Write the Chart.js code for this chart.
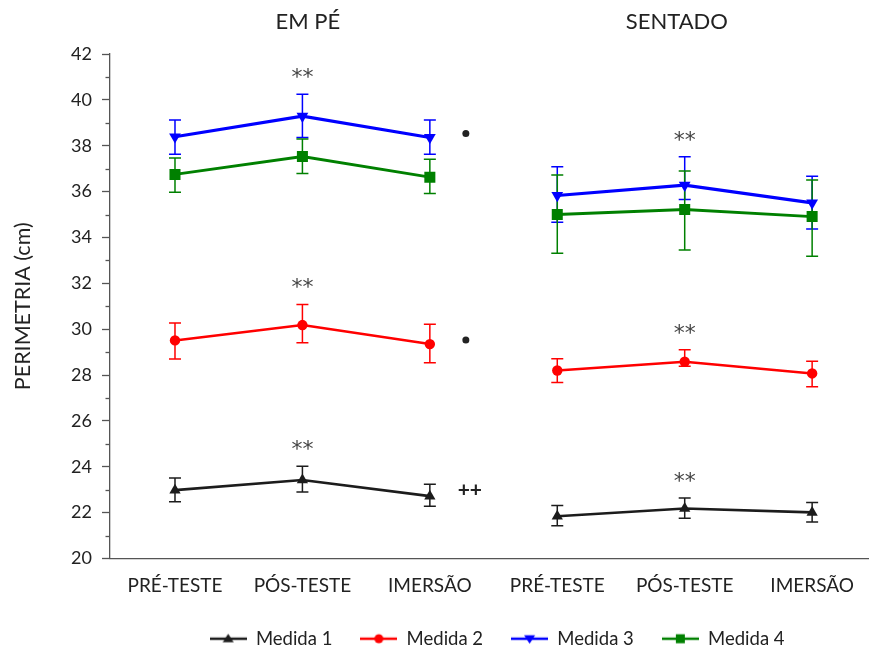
<!DOCTYPE html>
<html>
<head>
<meta charset="utf-8">
<script src="https://cdn.jsdelivr.net/npm/chart.js@4.4.1/dist/chart.umd.min.js"></script>
<style>
  html, body { margin: 0; padding: 0; background: #fff; }
</style>
</head>
<body>
<canvas id="perimetriaChart" width="876" height="651"></canvas>
<script>
// x categories (two groups of three moments)
const categories = ['PRÉ-TESTE', 'PÓS-TESTE', 'IMERSÃO', 'PRÉ-TESTE', 'PÓS-TESTE', 'IMERSÃO'];
const groups = ['EM PÉ', 'SENTADO'];

// means and error bars (cm)
const medida1 = [22.98, 23.42, 22.72, 21.84, 22.18, 22.01];
const medida1Up = [0.53, 0.60, 0.52, 0.47, 0.46, 0.43];
const medida1Down = [0.51, 0.52, 0.44, 0.41, 0.43, 0.42];

const medida2 = [29.51, 30.18, 29.35, 28.20, 28.58, 28.07];
const medida2Up = [0.76, 0.90, 0.87, 0.51, 0.52, 0.53];
const medida2Down = [0.81, 0.77, 0.81, 0.52, 0.20, 0.58];

const medida3 = [38.39, 39.29, 38.36, 35.83, 36.28, 35.51];
const medida3Up = [0.73, 0.95, 0.76, 1.25, 1.24, 1.16];
const medida3Down = [0.76, 0.93, 0.73, 1.17, 0.63, 1.14];

const medida4 = [36.75, 37.53, 36.63, 35.00, 35.22, 34.91];
const medida4Up = [0.72, 0.76, 0.78, 1.72, 1.68, 1.60];
const medida4Down = [0.78, 0.74, 0.71, 1.69, 1.77, 1.73];

// significance marks per point
const marks1 = ['', '**', '++', '', '**', ''];
const marks2 = ['', '**', '•', '', '**', ''];
const marks3 = ['', '**', '•', '', '**', ''];
const marks4 = ['', '', '', '', '', ''];

const FONT = 'Lato, "DejaVu Sans", sans-serif';

function makeSeries(label, values, up, down, marks, color, style, rotation, radius, width) {
  return {
    label,
    data: values.map((v, i) => ({ x: i, y: v })),
    errUp: up,
    errDown: down,
    marks,
    borderColor: color,
    backgroundColor: color,
    borderWidth: width,
    pointStyle: style,
    pointRotation: rotation,
    pointRadius: radius,
    pointBorderWidth: 0,
    pointHoverRadius: radius,
    tension: 0,
    // no line between IMERSÃO (em pé) and PRÉ-TESTE (sentado)
    segment: { borderColor: c => c.p0DataIndex === 2 ? 'rgba(0,0,0,0)' : undefined }
  };
}

const datasets = [
  makeSeries('Medida 1', medida1, medida1Up, medida1Down, marks1, '#1c1c1c', 'triangle', 0, 6.5, 2.6),
  makeSeries('Medida 2', medida2, medida2Up, medida2Down, marks2, '#ff0000', 'circle', 0, 5.2, 2.6),
  makeSeries('Medida 3', medida3, medida3Up, medida3Down, marks3, '#0000ff', 'triangle', 180, 6.8, 3.2),
  makeSeries('Medida 4', medida4, medida4Up, medida4Down, marks4, '#008000', 'rect', 0, 7.8, 2.8)
];

// little line + marker icons for the legend
function legendIcon(ds) {
  const c = document.createElement('canvas');
  c.width = 37; c.height = 16;
  const g = c.getContext('2d');
  g.strokeStyle = ds.borderColor;
  g.fillStyle = ds.borderColor;
  g.lineWidth = 2.6;
  g.beginPath(); g.moveTo(0, 8); g.lineTo(37, 8); g.stroke();
  const cx = 18.5, cy = 8;
  g.beginPath();
  if (ds.pointStyle === 'circle') {
    g.arc(cx, cy, 4.5, 0, Math.PI * 2);
  } else if (ds.pointStyle === 'rect') {
    g.rect(cx - 4.5, cy - 4.5, 9, 9);
  } else if (ds.pointRotation === 180) {
    g.moveTo(cx - 5.5, cy - 3.5); g.lineTo(cx + 5.5, cy - 3.5); g.lineTo(cx, cy + 5);
  } else {
    g.moveTo(cx - 5.5, cy + 3.5); g.lineTo(cx + 5.5, cy + 3.5); g.lineTo(cx, cy - 5);
  }
  g.closePath();
  g.fill();
  return c;
}
const legendIcons = datasets.map(legendIcon);

// error bars, drawn under the lines
const errorBars = {
  id: 'errorBars',
  beforeDatasetsDraw(chart) {
    const { ctx, scales: { x, y } } = chart;
    ctx.save();
    ctx.lineWidth = 1.5;
    chart.data.datasets.forEach(ds => {
      ctx.strokeStyle = ds.borderColor;
      ds.data.forEach((pt, i) => {
        const px = x.getPixelForValue(pt.x);
        const top = y.getPixelForValue(pt.y + ds.errUp[i]);
        const bot = y.getPixelForValue(pt.y - ds.errDown[i]);
        ctx.beginPath();
        ctx.moveTo(px, top); ctx.lineTo(px, bot);
        ctx.moveTo(px - 6, top); ctx.lineTo(px + 6, top);
        ctx.moveTo(px - 6, bot); ctx.lineTo(px + 6, bot);
        ctx.stroke();
      });
    });
    ctx.restore();
  }
};

// nudge the legend a little to the right, like the original
const legendNudge = {
  id: 'legendNudge',
  afterLayout(chart) {
    if (chart.legend) {
      chart.legend.left += 8;
      chart.legend.right += 8;
    }
  }
};

// group titles, minor ticks and significance marks
const annotations = {
  id: 'annotations',
  afterDraw(chart) {
    const { ctx, scales: { x, y }, chartArea } = chart;
    ctx.save();

    // group titles over each half
    ctx.fillStyle = '#222';
    ctx.font = '22px ' + FONT;
    ctx.textAlign = 'center';
    ctx.textBaseline = 'middle';
    const halves = [[x.min, 2.5], [2.5, x.max]];
    groups.forEach((g, i) => {
      ctx.fillText(g, x.getPixelForValue((halves[i][0] + halves[i][1]) / 2) + (i === 0 ? 6 : -4), 22);
    });

    // minor ticks on the y axis
    ctx.strokeStyle = '#555';
    ctx.lineWidth = 1.3;
    for (let k = 0; k < y.ticks.length - 1; k++) {
      const mid = (y.ticks[k].value + y.ticks[k + 1].value) / 2;
      const py = Math.round(y.getPixelForValue(mid)) + 0.5;
      ctx.beginPath();
      ctx.moveTo(chartArea.left - 4.5, py); ctx.lineTo(chartArea.left, py);
      ctx.stroke();
    }

    // significance marks
    chart.data.datasets.forEach(ds => {
      ds.data.forEach((pt, i) => {
        const m = ds.marks[i];
        if (!m) return;
        const px = x.getPixelForValue(pt.x);
        if (m === '**') {
          ctx.fillStyle = '#444';
          ctx.font = '22px "DejaVu Sans", sans-serif';
          ctx.textBaseline = 'alphabetic';
          ctx.fillText(m, px, y.getPixelForValue(pt.y + ds.errUp[i]) - 22 + 12);
          ctx.textBaseline = 'middle';
        } else if (m === '•') {
          ctx.fillStyle = '#222';
          ctx.beginPath();
          ctx.arc(px + 36, y.getPixelForValue(pt.y) - 4, 3.5, 0, Math.PI * 2);
          ctx.fill();
        } else {
          ctx.fillStyle = '#222';
          ctx.font = 'bold 21px ' + FONT;
          ctx.fillText(m, px + 40, y.getPixelForValue(pt.y) - 6);
        }
      });
    });
    ctx.restore();
  }
};

new Chart(document.getElementById('perimetriaChart'), {
  type: 'line',
  data: { datasets },
  options: {
    responsive: false,
    animation: false,
    layout: { padding: { top: 54, right: 0, bottom: -7, left: 0 } },
    scales: {
      x: {
        type: 'linear',
        min: -0.51,
        max: 5.44,
        afterBuildTicks: s => { s.ticks = categories.map((c, i) => ({ value: i })); },
        afterFit: s => { s.height = 43; },
        grid: { display: false, drawTicks: false },
        border: { display: true, color: '#555', width: 1.3 },
        ticks: {
          callback: v => categories[v],
          autoSkip: false,
          maxRotation: 0,
          padding: 16,
          color: '#222',
          font: { family: FONT, size: 19 }
        }
      },
      y: {
        min: 20,
        max: 42,
        afterFit: s => { s.width = 110; },
        grid: { drawOnChartArea: false, drawTicks: true, tickLength: 8, tickColor: '#555', tickWidth: 1.3 },
        border: { display: true, color: '#555', width: 1.3 },
        ticks: { stepSize: 2, padding: 10, color: '#222', font: { family: FONT, size: 18 } },
        title: {
          display: true,
          text: 'PERIMETRIA (cm)',
          color: '#222',
          font: { family: FONT, size: 21.5 },
          padding: { top: 10, bottom: 0 }
        }
      }
    },
    plugins: {
      tooltip: { enabled: false },
      legend: {
        position: 'bottom',
        fullSize: false,
        labels: {
          usePointStyle: true,
          pointStyleWidth: 37,
          padding: 28,
          color: '#222',
          font: { family: FONT, size: 18.5 },
          generateLabels: chart => Chart.defaults.plugins.legend.labels.generateLabels(chart)
            .map((item, i) => ({ ...item, pointStyle: legendIcons[i], rotation: 0 }))
        }
      }
    }
  },
  plugins: [errorBars, legendNudge, annotations]
});
</script>
</body>
</html>
